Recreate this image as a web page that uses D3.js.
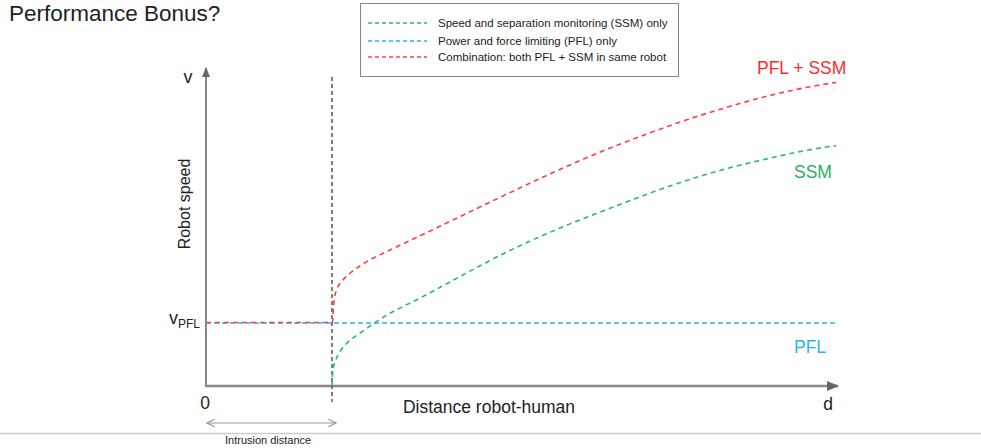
<!DOCTYPE html>
<html>
<head>
<meta charset="utf-8">
<script src="https://cdn.jsdelivr.net/npm/d3@7"></script>
<style>
  body { margin: 0; background: #fff; }
  svg text { font-family: "Liberation Sans", Arial, sans-serif; }
</style>
</head>
<body>
<div id="chart"></div>
<script>
// distance (0..100 = origin..d) and speed (0..100 = 0..v)
var intrusion = 20;
var vPFL = 20.1;

var pflX = [0, 100];
var pflY = [vPFL, vPFL];

var comboX = [0, 20.1, 20.2, 20.4, 20.8, 21.6, 22.9, 24.4, 26.0, 27.6, 34.0, 40.3, 46.7, 56.2, 62.5, 68.9, 75.2, 81.6, 87.9, 94.3, 100];
var comboY = [20.3, 20.3, 24.3, 28.1, 31.0, 33.5, 36.1, 38.3, 40.3, 41.9, 48.0, 54.1, 60.3, 69.2, 74.7, 79.7, 84.3, 88.4, 92.0, 95.0, 97.0];

var ssmX = [20.0, 20.05, 20.16, 20.48, 20.87, 21.43, 22.38, 24.44, 26.51, 28.73, 31.27, 33.97, 36.67, 41.9, 47.14, 52.54, 57.78, 63.02, 68.41, 73.65, 78.89, 84.29, 89.52, 94.76, 100];
var ssmY = [0, 2.6, 5.1, 7.7, 9.6, 11.5, 13.7, 16.9, 19.8, 22.7, 25.4, 28.1, 31.0, 36.7, 42.2, 47.3, 51.8, 55.9, 60.1, 63.9, 67.3, 70.3, 72.8, 75.1, 76.8];

var legendLabels = [
  "Speed and separation monitoring (SSM) only",
  "Power and force limiting (PFL) only",
  "Combination: both PFL + SSM in same robot"
];
var colors = ["#2fb868", "#1fb8f5", "#ff4040"];

var W = 981, H = 448;
var svg = d3.select("#chart").append("svg")
    .attr("width", W)
    .attr("height", H);

var x = d3.scaleLinear().domain([0, 100]).range([206, 836]);
var y = d3.scaleLinear().domain([0, 100]).range([386, 73]);

function zip(xs, ys) { return xs.map(function(v, i) { return {x: v, y: ys[i]}; }); }

var line = d3.line()
    .x(function(d) { return x(d.x); })
    .y(function(d) { return y(d.y); })
    .curve(d3.curveMonotoneX);

// title
svg.append("text")
    .attr("x", 9).attr("y", 21)
    .attr("font-size", 22.5)
    .attr("fill", "#222")
    .text("Performance Bonus?");

// arrow markers
var defs = svg.append("defs");
defs.append("marker")
    .attr("id", "tip")
    .attr("viewBox", "0 0 10 10")
    .attr("refX", 9).attr("refY", 5)
    .attr("markerWidth", 5).attr("markerHeight", 5)
    .attr("orient", "auto")
  .append("path")
    .attr("d", "M0,1 L10,5 L0,9 Z")
    .attr("fill", "#666");
defs.append("marker")
    .attr("id", "open")
    .attr("viewBox", "0 0 10 10")
    .attr("refX", 9).attr("refY", 5)
    .attr("markerWidth", 8).attr("markerHeight", 8)
    .attr("orient", "auto-start-reverse")
  .append("path")
    .attr("d", "M1,1 L9,5 L1,9")
    .attr("fill", "none")
    .attr("stroke", "#999")
    .attr("stroke-width", 1.2);

// axes
svg.append("line")
    .attr("x1", x(0)).attr("y1", y(0))
    .attr("x2", x(0)).attr("y2", 68)
    .attr("stroke", "#888").attr("stroke-width", 2)
    .attr("marker-end", "url(#tip)");
svg.append("line")
    .attr("x1", x(0) - 1).attr("y1", y(0))
    .attr("x2", 838).attr("y2", y(0))
    .attr("stroke", "#888").attr("stroke-width", 2.5)
    .attr("marker-end", "url(#tip)");

// intrusion marker
svg.append("line")
    .attr("x1", x(intrusion)).attr("y1", 77)
    .attr("x2", x(intrusion)).attr("y2", 402)
    .attr("stroke", "#555").attr("stroke-width", 1.5)
    .attr("stroke-dasharray", "4,3");

// series
svg.append("path")
    .datum(zip(pflX, pflY))
    .attr("d", line)
    .attr("fill", "none").attr("stroke", colors[1])
    .attr("stroke-width", 1.5).attr("stroke-dasharray", "5,3");
svg.append("path")
    .datum(zip(ssmX, ssmY))
    .attr("d", line)
    .attr("fill", "none").attr("stroke", colors[0])
    .attr("stroke-width", 1.6).attr("stroke-dasharray", "5,4");
svg.append("path")
    .datum(zip(comboX, comboY))
    .attr("d", line)
    .attr("fill", "none").attr("stroke", colors[2])
    .attr("stroke-width", 1.6).attr("stroke-dasharray", "5,4");

// axis texts
svg.append("text").attr("x", 188).attr("y", 83)
    .attr("text-anchor", "middle").attr("font-size", 18).attr("fill", "#222").text("v");
svg.append("text")
    .attr("transform", "translate(190,204) rotate(-90)")
    .attr("text-anchor", "middle").attr("font-size", 16).attr("fill", "#222")
    .text("Robot speed");
var vt = svg.append("text").attr("x", 169).attr("y", y(vPFL) + 1)
    .attr("font-size", 18).attr("fill", "#222");
vt.append("tspan").text("v");
vt.append("tspan").attr("dy", 4).attr("font-size", 12).text("PFL");
svg.append("text").attr("x", 205).attr("y", 409)
    .attr("text-anchor", "middle").attr("font-size", 17.5).attr("fill", "#222").text("0");
svg.append("text").attr("x", 828).attr("y", 410)
    .attr("text-anchor", "middle").attr("font-size", 17.5).attr("fill", "#222").text("d");
svg.append("text").attr("x", 489).attr("y", 413)
    .attr("text-anchor", "middle").attr("font-size", 17.5).attr("fill", "#222")
    .text("Distance robot-human");

// intrusion distance arrow
svg.append("line")
    .attr("x1", x(0) + 1).attr("y1", 423)
    .attr("x2", x(intrusion) + 4).attr("y2", 423)
    .attr("stroke", "#999").attr("stroke-width", 1.2)
    .attr("marker-start", "url(#open)")
    .attr("marker-end", "url(#open)");

// bottom rule
svg.append("line")
    .attr("x1", 0).attr("y1", 433.5).attr("x2", W).attr("y2", 433.5)
    .attr("stroke", "#ccc").attr("stroke-width", 1.5);
svg.append("text").attr("x", 225).attr("y", 444)
    .attr("font-size", 11).attr("fill", "#222").text("Intrusion distance");

// end labels
svg.append("text").attr("x", 757).attr("y", 74)
    .attr("font-size", 17.5).attr("fill", "#ff2a2a").text("PFL + SSM");
svg.append("text").attr("x", 794).attr("y", 178)
    .attr("font-size", 17.5).attr("fill", "#2aae60").text("SSM");
svg.append("text").attr("x", 794).attr("y", 353)
    .attr("font-size", 17.5).attr("fill", "#1fb8f5").text("PFL");

// legend
var lg = svg.append("g");
lg.append("rect")
    .attr("x", 360.5).attr("y", 3.5).attr("width", 318).attr("height", 73)
    .attr("fill", "#fff").attr("stroke", "#888").attr("stroke-width", 1);
var ly = [23, 41, 57];
legendLabels.forEach(function(t, i) {
  lg.append("line")
    .attr("x1", 368).attr("x2", 427).attr("y1", ly[i]).attr("y2", ly[i])
    .attr("stroke", colors[i]).attr("stroke-width", 1.3)
    .attr("stroke-dasharray", "4,3");
  lg.append("text")
    .attr("x", 438).attr("y", ly[i] + 4)
    .attr("font-size", 11.5).attr("fill", "#222").text(t);
});
</script>
</body>
</html>
